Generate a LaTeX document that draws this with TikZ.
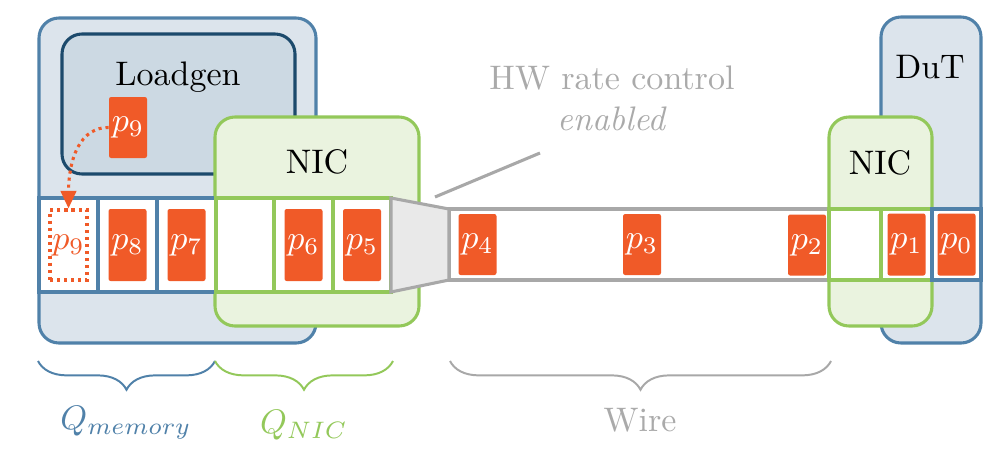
\documentclass[tikz,border=0pt]{standalone}
\usepackage{graphicx}
\usetikzlibrary{decorations.pathreplacing,arrows.meta,fit}
\definecolor{memblue}{HTML}{5081A9}
\definecolor{memfill}{HTML}{DCE4EC}
\definecolor{navyline}{HTML}{1C4A6C}
\definecolor{navyfill}{HTML}{CCD9E3}
\definecolor{nicgreen}{HTML}{93C85A}
\definecolor{nicfill}{HTML}{EAF3DF}
\definecolor{pktorange}{HTML}{F05A28}
\definecolor{wiregray}{HTML}{A8A8A8}
\definecolor{funnelfill}{HTML}{E9E9E9}
\definecolor{labelgray}{HTML}{AAAAAA}
\newcommand\sct[1]{\scalebox{1.55}{#1}}
\begin{document}
\begin{tikzpicture}[x=0.016cm,y=-0.016cm,
  box/.style={rounded corners=0.32cm, line width=1.4pt, inner sep=0pt, outer sep=0pt},
  membox/.style={box, draw=memblue, fill=memfill},
  genbox/.style={box, draw=navyline, fill=navyfill},
  nicbox/.style={box, draw=nicgreen, fill=nicfill},
  cellm/.style={draw=memblue, fill=white, line width=1.4pt, inner sep=0pt, outer sep=0pt},
  celln/.style={draw=nicgreen, fill=white, line width=1.4pt, inner sep=0pt, outer sep=0pt},
  wirebox/.style={draw=wiregray, fill=white, line width=1.4pt, inner sep=0pt, outer sep=0pt},
  funnel/.style={draw=wiregray, fill=funnelfill, line width=1.4pt, line join=miter},
  pkt/.style={fill=pktorange, text=white, rounded corners=1pt, inner sep=0pt, minimum width=38*0.016cm},
  pktq/.style={pkt, minimum height=72*0.016cm},
  pktw/.style={pkt, minimum height=61*0.016cm},
  ghost/.style={draw=pktorange, text=pktorange, line width=1.4pt, dash pattern=on 1.4pt off 1.8pt, inner sep=0pt, minimum width=37*0.016cm, minimum height=70*0.016cm},
  flow/.style={draw=pktorange, line width=1.4pt, dash pattern=on 1.4pt off 1.8pt, -{Triangle[length=8pt,width=7pt]}},
  callout/.style={draw=wiregray, line width=1.4pt},
  lbl/.style={inner sep=0pt},
  brc/.style={decorate, decoration={brace, mirror, amplitude=0.46cm}, line width=0.9pt},
]
\useasboundingbox (0,0) rectangle (1000,466);

% hosts
\node[membox, fit={(39,18) (316,343)}] (loadhost) {};
\node[genbox, fit={(62,34) (295,174)}] (loadgen) {};
\node[lbl] (loadgentxt) at (178,77) {\sct{Loadgen}};
\node[pktw] (p9src) at (128,127.5) {\sct{$p_9$}};

\node[membox, fit={(881,17) (981,343)}] (dut) {};
\node[lbl] (duttxt) at (930,67) {\sct{DuT}};

\node[nicbox, fit={(215,117) (419,326)}] (nicl) {};
\node[lbl] (nicltxt) at (317,162) {\sct{NIC}};
\node[nicbox, fit={(829,117) (932,326)}] (nicr) {};
\node[lbl] (nicrtxt) at (880,163) {\sct{NIC}};

% wire
\node[wirebox, fit={(449,209) (829,280)}] (wire) {};

% queue cells
\node[cellm, fit={(39,198) (98,292)}] (m1) {};
\node[cellm, fit={(98,198) (157,292)}] (m2) {};
\node[cellm, fit={(157,198) (216,292)}] (m3) {};
\node[celln, fit={(216,198) (274,292)}] (n1) {};
\node[celln, fit={(274,198) (333,292)}] (n2) {};
\node[celln, fit={(333,198) (391,292)}] (n3) {};
\node[celln, fit={(829,209) (881,280)}] (r1) {};
\node[celln, fit={(881,209) (932,280)}] (r2) {};
\node[cellm, fit={(932,209) (981,280)}] (d1) {};

% funnel
\draw[funnel] (n3.north east) -- (wire.north west) -- (wire.south west) -- (n3.south east) -- cycle;

% packets
\node[ghost] (g9) at (m1) {\sct{$p_9$}};
\node[pktq] (p8) at (m2) {\sct{$p_8$}};
\node[pktq] (p7) at (m3) {\sct{$p_7$}};
\node[pktq] (p6) at (n2) {\sct{$p_6$}};
\node[pktq] (p5) at (n3) {\sct{$p_5$}};
\node[pktw] (p4) at (477.5,244.5) {\sct{$p_4$}};
\node[pktw] (p3) at (642,244.5) {\sct{$p_3$}};
\node[pktw] (p2) at (807,245) {\sct{$p_2$}};
\node[pktw, minimum height=62*0.016cm] (p1) at (r2) {\sct{$p_1$}};
\node[pktw, minimum height=62*0.016cm] (p0) at (d1) {\sct{$p_0$}};

% arrow
\draw[flow] (p9src.west) to[out=180,in=90] (g9.north);

% callout
\node[lbl, text=labelgray] (hw) at (612,102) {\sct{\begin{tabular}{@{}c@{}}HW rate control\\ \textit{enabled}\end{tabular}}};
\coordinate (cA) at (435,197);
\coordinate (cB) at (540,153);
\draw[callout] (cA) -- (cB);

% braces
\coordinate (bm1) at (38,361);
\coordinate (bm2) at (215,361);
\coordinate (bn2) at (393,361);
\coordinate (bw1) at (450,361);
\coordinate (bw2) at (831,361);
\draw[brc, draw=memblue] (bm1) -- (bm2);
\draw[brc, draw=nicgreen] (bm2) -- (bn2);
\draw[brc, draw=wiregray] (bw1) -- (bw2);

\node[lbl, text=memblue] (qmem) at (126,423) {\sct{$Q_{memory}$}};
\node[lbl, text=nicgreen] (qnic) at (304,425) {\sct{$Q_{NIC}$}};
\node[lbl, text=labelgray] (wiretxt) at (640,420) {\sct{Wire}};
\end{tikzpicture}
\end{document}
